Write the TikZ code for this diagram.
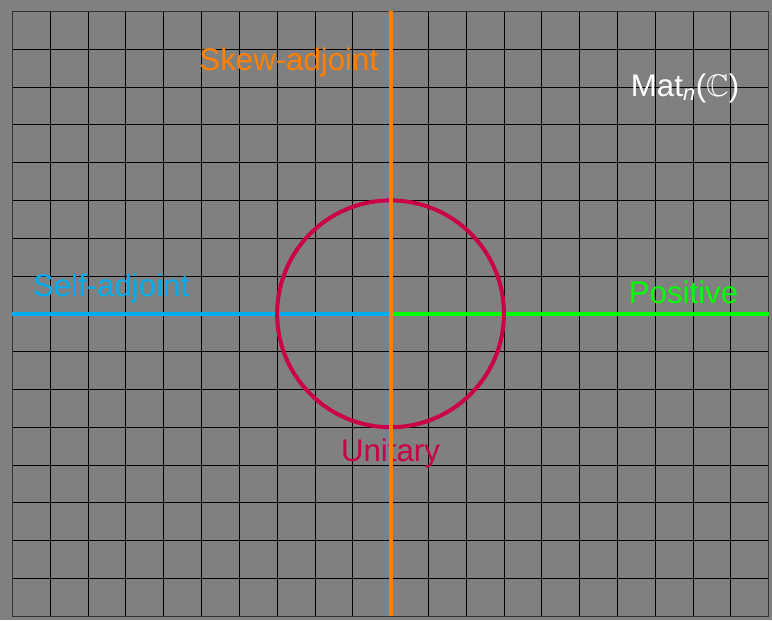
\documentclass[tikz,border=0pt]{standalone}
\usepackage{fontspec}
\usepackage{amssymb}
\setmainfont{Liberation Sans}
\definecolor{bggray}{HTML}{808080}
\definecolor{sacol}{HTML}{00AEEF}
\definecolor{poscol}{HTML}{00FF00}
\definecolor{skewcol}{HTML}{FF8000}
\definecolor{unicol}{HTML}{CC0044}
\tikzset{
  lbl/.style={font=\fontsize{23.5}{28}\selectfont, anchor=base, inner sep=0pt},
  thick line/.style={line width=3pt},
}
\begin{document}
\begin{tikzpicture}
\fill[bggray] (-0.33,-0.11) rectangle (20.09,16.30);
\useasboundingbox (-0.33,-0.11) rectangle (20.09,16.30);
\draw[black, line width=0.6pt] (0,0) grid (20,16);
\draw[black!80, line width=0.8pt] (0,0) rectangle (20,16);
% coordinates
\coordinate (C) at (10,8);
\coordinate (L) at (0,8);
\coordinate (R) at (20,8);
\coordinate (T) at (10,16);
\coordinate (B) at (10,0);
% labels
\node[lbl, text=sacol] (sa) at (2.61,8.47) {Self-adjoint};
\node[lbl, text=poscol] (pos) at (17.75,8.26) {Positive};
\node[lbl, text=skewcol] (skew) at (7.31,14.44) {Skew-adjoint};
\node[lbl, text=unicol] (uni) at (10,4.08) {Unitary};
\node[lbl, text=white] (mat) at (17.79,13.76) {Mat\textsubscript{\itshape n}($\mathbb{C}$)};
% lines
\draw[thick line, sacol] (L) -- (C);
\draw[thick line, poscol] (C) -- (R);
\draw[thick line, unicol] (C) circle (3);
\draw[thick line, skewcol] (B) -- (T);
\end{tikzpicture}
\end{document}
